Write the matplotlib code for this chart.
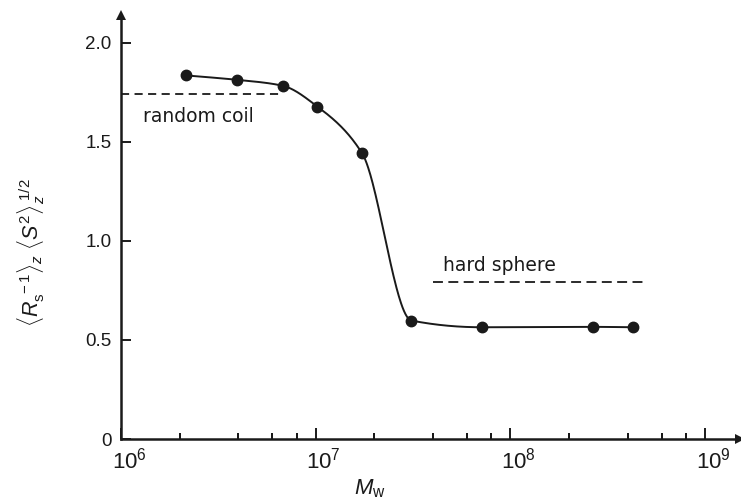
import numpy as np
import matplotlib
matplotlib.use("Agg")
import matplotlib.pyplot as plt
from matplotlib.ticker import FixedLocator, FuncFormatter, NullFormatter
from matplotlib.transforms import ScaledTranslation

plt.rcParams["font.family"] = ["Liberation Sans", "DejaVu Sans"]
plt.rcParams["mathtext.fontset"] = "custom"
plt.rcParams["mathtext.rm"] = "Liberation Sans"
plt.rcParams["mathtext.it"] = "Liberation Sans:italic"
plt.rcParams["mathtext.bf"] = "Liberation Sans:bold"

INK = "#1a1a1a"

# Weight-average molar mass and the ratio <Rs^-1>_z <S^2>_z^(1/2)
molar_mass = [2.16e6, 3.93e6, 6.76e6, 1.02e7, 1.73e7, 3.10e7, 7.15e7, 2.65e8, 4.27e8]
ratio = [1.835, 1.813, 1.783, 1.678, 1.443, 0.598, 0.564, 0.566, 0.564]

# Theoretical limits
random_coil_value = 1.74
random_coil_range = [1.0e6, 6.8e6]
hard_sphere_value = 0.79
hard_sphere_range = [4.0e7, 5.0e8]

x_major = [1e6, 1e7, 1e8, 1e9]
x_major_labels = [r"$10^6$", r"$10^7$", r"$10^8$", r"$10^9$"]
y_major = [0.0, 0.5, 1.0, 1.5, 2.0]
y_major_labels = ["0", "0.5", "1.0", "1.5", "2.0"]


def pchip(x, y, xs):
    """Shape-preserving piecewise cubic Hermite curve through (x, y)."""
    x = np.asarray(x, float)
    y = np.asarray(y, float)
    h = np.diff(x)
    d = np.diff(y) / h
    m = np.zeros_like(y)
    for k in range(1, len(x) - 1):
        if d[k - 1] * d[k] <= 0:
            m[k] = 0.0
        else:
            w1 = 2 * h[k] + h[k - 1]
            w2 = h[k] + 2 * h[k - 1]
            m[k] = (w1 + w2) / (w1 / d[k - 1] + w2 / d[k])
    m[0] = d[0]
    m[-1] = d[-1]
    idx = np.clip(np.searchsorted(x, xs) - 1, 0, len(x) - 2)
    t = (xs - x[idx]) / h[idx]
    h00 = 2 * t**3 - 3 * t**2 + 1
    h10 = t**3 - 2 * t**2 + t
    h01 = -2 * t**3 + 3 * t**2
    h11 = t**3 - t**2
    return (h00 * y[idx] + h10 * h[idx] * m[idx]
            + h01 * y[idx + 1] + h11 * h[idx] * m[idx + 1])


fig = plt.figure(figsize=(7.41, 5.04), dpi=100)
ax = fig.add_axes([121 / 741, 65 / 504, 619 / 741, 424 / 504])

ax.set_xscale("log")
ax.set_xlim(1e6, 10 ** 9.18)
ax.set_ylim(0, 2.14)

# smooth guide curve through the measurements (in log M)
logm = np.log10(molar_mass)
xs = np.linspace(logm[0], logm[-1], 600)
ax.plot(10 ** xs, pchip(logm, ratio, xs), color=INK, lw=1.4, zorder=3)
ax.plot(molar_mass, ratio, "o", color=INK, ms=7.5, zorder=4)

# limiting values
ax.plot(random_coil_range, [random_coil_value] * 2, color=INK, lw=1.3,
        dashes=(4.5, 3.0), zorder=2, clip_on=False)
ax.plot(hard_sphere_range, [hard_sphere_value] * 2, color=INK, lw=1.3,
        dashes=(5.5, 3.0), zorder=2)
ax.text(1.3e6, 1.63, "random coil", fontsize=13.5, color=INK,
        family=["DejaVu Sans"], ha="left", va="center")
ax.text(4.5e7, 0.875, "hard sphere", fontsize=13.5, color=INK,
        family=["DejaVu Sans"], ha="left", va="center")

# axes: only left and bottom, with arrow heads
for side in ("top", "right"):
    ax.spines[side].set_visible(False)
for side in ("left", "bottom"):
    ax.spines[side].set_linewidth(1.8)
    ax.spines[side].set_color(INK)
ax.plot(1, 0, ">", transform=ax.transAxes, color=INK, ms=7, clip_on=False,
        markeredgewidth=0)
ax.plot(0, 1, "^", transform=ax.transAxes, color=INK, ms=7, clip_on=False,
        markeredgewidth=0)

ax.xaxis.set_major_locator(FixedLocator(x_major))
ax.xaxis.set_major_formatter(FuncFormatter(
    lambda v, p: x_major_labels[int(round(np.log10(v))) - 6]))
minor = [k * 10.0 ** e for e in (6, 7, 8) for k in (2, 4, 6, 8)]
ax.xaxis.set_minor_locator(FixedLocator(minor))
ax.xaxis.set_minor_formatter(NullFormatter())
ax.yaxis.set_major_locator(FixedLocator(y_major))
ax.yaxis.set_major_formatter(FuncFormatter(
    lambda v, p: y_major_labels[int(round(v / 0.5))]))

ax.tick_params(axis="x", which="major", direction="in", length=8, width=1.4,
               labelsize=16, pad=6, colors=INK)
ax.tick_params(axis="x", which="minor", direction="in", length=4.5, width=1.3)
ax.tick_params(axis="y", which="major", direction="in", length=7, width=1.4,
               labelsize=13.5, pad=7, colors=INK)
ax.tick_params(axis="y", which="minor", left=False)

shift = ScaledTranslation(8 / 100, 0, fig.dpi_scale_trans)
for lab in ax.get_xticklabels():
    lab.set_transform(lab.get_transform() + shift)

ax.set_ylabel(r"$\langle R_{\mathrm{s}}^{\;-1}\rangle_z\ \langle S^2\rangle_z^{\;1/2}$",
              fontsize=15.5, color=INK)
ax.yaxis.set_label_coords(-0.12, 0.44)
ax.set_xlabel(r"$M_{\mathrm{w}}$", fontsize=16, color=INK)
ax.xaxis.set_label_coords((370 - 121) / 619, -0.09)

fig.savefig("out.png", dpi=100, facecolor="white")
